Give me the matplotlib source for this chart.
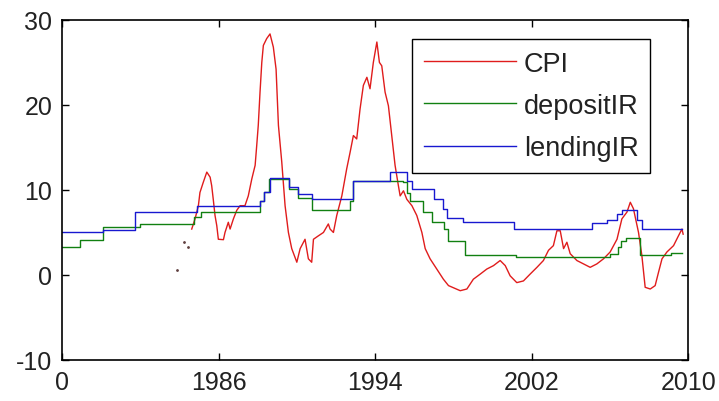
import numpy as np
import matplotlib
matplotlib.use("Agg")
from matplotlib import pyplot as plt

# monthly-ish CPI inflation readings (year, %)
cpi_years = [1984.63, 1984.80, 1984.97, 1985.05, 1985.22, 1985.40, 1985.57, 1985.65,
             1985.73, 1985.82, 1985.91, 1985.99, 1986.25, 1986.33, 1986.50, 1986.59,
             1986.76, 1986.93, 1987.10, 1987.35, 1987.52, 1987.70, 1987.87, 1987.95,
             1988.03, 1988.12, 1988.21, 1988.29, 1988.46, 1988.63, 1988.80, 1988.94,
             1989.06, 1989.23, 1989.40, 1989.57, 1989.74, 1990.00, 1990.17, 1990.42,
             1990.59, 1990.76, 1990.85, 1991.10, 1991.36, 1991.61, 1991.70, 1991.87,
             1992.04, 1992.30, 1992.55, 1992.72, 1992.89, 1993.06, 1993.23, 1993.40,
             1993.58, 1993.74, 1993.91, 1994.09, 1994.22, 1994.34, 1994.51, 1994.68,
             1994.85, 1995.02, 1995.19, 1995.28, 1995.45, 1995.62, 1995.88, 1996.13,
             1996.39, 1996.56, 1996.81, 1997.15, 1997.49, 1997.75, 1998.35, 1998.69,
             1999.02, 1999.37, 1999.71, 2000.05, 2000.39, 2000.65, 2000.90, 2001.24,
             2001.58, 2001.92, 2002.27, 2002.60, 2002.86, 2003.11, 2003.29, 2003.46,
             2003.63, 2003.80, 2003.97, 2004.31, 2004.65, 2004.99, 2005.33, 2005.67,
             2006.01, 2006.36, 2006.61, 2006.87, 2007.04, 2007.20, 2007.46, 2007.63,
             2007.80, 2008.06, 2008.31, 2008.48, 2008.66, 2008.91, 2009.25, 2009.50,
             2009.68, 2009.74]
cpi = [5.4, 6.6, 8.15, 9.7, 10.9, 12.1, 11.5, 10.5,
       8.9, 7.0, 5.8, 4.2, 4.15, 5.0, 6.2, 5.4,
       6.6, 7.6, 8.15, 8.15, 9.3, 11.3, 12.9, 15.2,
       17.6, 21.5, 25.0, 27.0, 27.8, 28.35, 26.8, 24.2,
       17.6, 13.3, 8.15, 5.0, 3.1, 1.5, 3.1, 4.2,
       1.9, 1.5, 4.2, 4.6, 5.0, 6.0, 5.4, 5.0,
       7.0, 9.3, 12.5, 14.4, 16.4, 16.0, 19.5, 22.3,
       23.25, 21.9, 25.0, 27.4, 25.0, 24.6, 21.5, 19.9,
       16.4, 12.9, 10.5, 9.3, 9.9, 8.9, 8.15, 7.0,
       5.0, 3.1, 1.9, 0.7, -0.5, -1.25, -1.85, -1.65,
       -0.5, 0.1, 0.7, 1.1, 1.7, 1.1, -0.1, -0.9,
       -0.7, 0.1, 0.9, 1.7, 2.9, 3.45, 5.2, 5.2,
       3.1, 3.85, 2.5, 1.7, 1.3, 0.9, 1.3, 1.9,
       2.7, 4.2, 6.6, 7.4, 8.55, 7.8, 5.0, 2.3,
       -1.45, -1.65, -1.25, 0.3, 1.9, 2.7, 3.45, 4.6,
       5.4, 4.8]

# isolated early CPI readings
cpi_early_years = [1983.90, 1984.23, 1984.45]
cpi_early = [0.6, 3.9, 3.3]

# deposit rate: (year the rate took effect, %)
deposit_years = [1978.00, 1978.92, 1980.10, 1982.00, 1984.75, 1985.10, 1988.12, 1988.30,
                 1988.60, 1989.60, 1990.05, 1990.78, 1992.70, 1992.85, 1995.40, 1995.65,
                 1995.80, 1996.45, 1996.90, 1997.50, 1997.70, 1998.60, 2001.20, 2006.00,
                 2006.40, 2006.55, 2006.80, 2007.55, 2009.10, 2009.70]
deposit = [3.3, 4.1, 5.6, 6.0, 6.8, 7.45, 8.7, 9.8,
           11.3, 10.1, 9.0, 7.6, 8.7, 11.0, 10.9, 9.7,
           8.75, 7.4, 6.2, 5.4, 4.0, 2.35, 2.1, 2.5,
           3.25, 4.0, 4.4, 2.35, 2.6, 2.6]

# lending rate: (year the rate took effect, %)
lending_years = [1978.00, 1980.10, 1981.73, 1984.90, 1988.12, 1988.33, 1988.63, 1989.60,
                 1990.06, 1990.78, 1992.85, 1994.77, 1995.64, 1995.88, 1997.00, 1997.49,
                 1997.68, 1998.50, 2001.10, 2005.10, 2005.85, 2006.35, 2006.60, 2007.40,
                 2007.65, 2009.70]
lending = [5.1, 5.3, 7.4, 8.15, 8.7, 9.8, 11.4, 10.3,
           9.5, 8.9, 11.1, 12.15, 11.1, 10.1, 8.9, 7.8,
           6.7, 6.2, 5.4, 6.1, 6.5, 7.2, 7.6, 6.5,
           5.4, 5.4]

xtick_pos = [1978, 1986, 1994, 2002, 2010]
xtick_labels = ['0', '1986', '1994', '2002', '2010']
ytick_pos = [-10, 0, 10, 20, 30]

plt.rcParams['font.family'] = ['Liberation Sans', 'DejaVu Sans']
plt.rcParams['axes.unicode_minus'] = False

fig = plt.figure(figsize=(7.19, 4.02), dpi=100)
ax = fig.add_axes([0.0862, 0.102, 0.871, 0.846])

ax.plot(cpi_years, cpi, color='#e01c1c', lw=1.0, label='CPI')
ax.plot(deposit_years, deposit, color='#118011', lw=1.0, drawstyle='steps-post', label='depositIR')
ax.plot(lending_years, lending, color='#1818d0', lw=1.0, drawstyle='steps-post', label='lendingIR')
ax.plot(cpi_early_years, cpi_early, ls='none', marker='.', ms=2, color='#604040')

ax.set_xlim(1978, 2010)
ax.set_ylim(-10, 30)
ax.set_xticks(xtick_pos)
ax.set_xticklabels(xtick_labels)
ax.set_yticks(ytick_pos)
ax.tick_params(direction='in', top=True, right=True, length=5, width=1,
               labelsize=18, pad=7, labelcolor='#222222')
for s in ax.spines.values():
    s.set_linewidth(1.2)

leg = ax.legend(loc='upper left', bbox_to_anchor=(0.559, 0.944), fontsize=19.5,
                handlelength=3.4, handletextpad=0.3, labelspacing=0.6,
                borderpad=0.43, borderaxespad=0, fancybox=False, framealpha=1)
leg.get_frame().set_edgecolor('black')
leg.get_frame().set_linewidth(1.0)
for t in leg.get_texts():
    t.set_color('#222222')

fig.savefig('out.png', dpi=100)
